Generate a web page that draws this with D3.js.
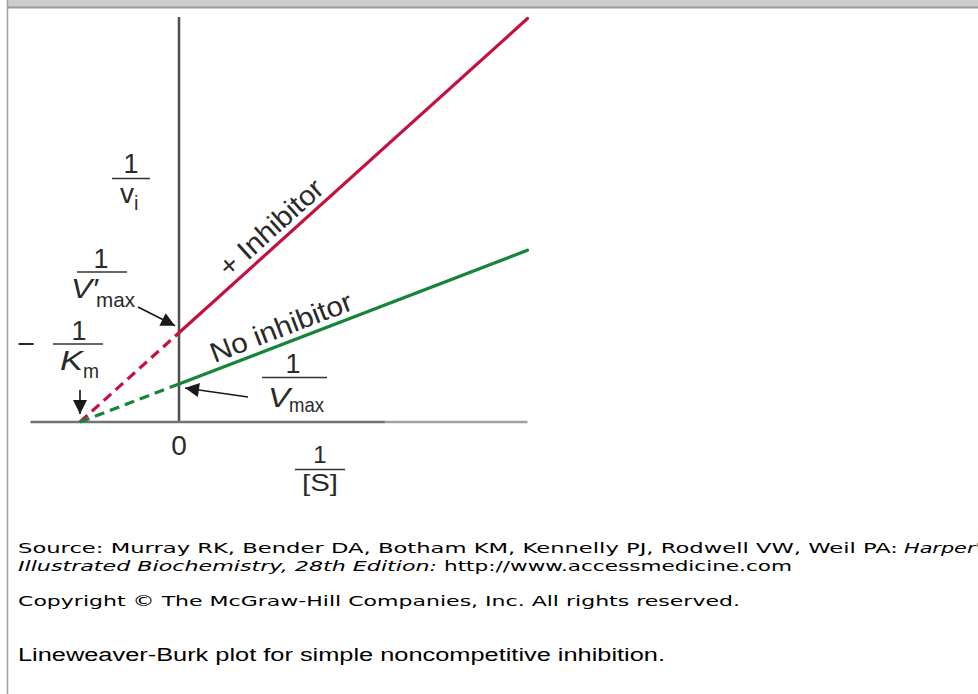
<!DOCTYPE html>
<html><head><meta charset="utf-8">
<script src="https://cdn.jsdelivr.net/npm/d3@7"></script>
<style>body{margin:0;background:#fff}svg{display:block}</style>
</head><body>
<svg id="c" width="978" height="694"></svg>
<script>
// ---- data ----
const xDomain = [-1.5, 3.52];           // 1/[S]
const yDomain = [0, 10.66];             // 1/v_i
const axisSplitX = 2.08;
const seriesNames = ["+ Inhibitor", "No inhibitor"];
const seriesColors = ["#c4123f", "#14853b"];
const intersectX = -1;                  // -1/Km (shared)
const yIntercepts = [2.35, 1.0];        // 1/V'max, 1/Vmax
const endX = 3.52;
const endY = [10.62, 4.52];
const labelAtX = [1.04, 1.09];
const labelLengths = [130, 150];
const xTickValues = [0];
const xTickLabels = ["0"];

const svg = d3.select("#c");
const W = 978, H = 694;
const x = d3.scaleLinear().domain(xDomain).range([30.5, 527.5]);
const y = d3.scaleLinear().domain(yDomain).range([422, 17]);
const FONT = "'Liberation Sans', Arial, Helvetica, sans-serif";
const INK = "#2a2a2a";

// frame
svg.append("rect").attr("x", 8).attr("y", 0).attr("width", W - 8).attr("height", 7).attr("fill", "#cccccc");
svg.append("line").attr("x1", 8).attr("x2", W).attr("y1", 7.5).attr("y2", 7.5).attr("stroke", "#9a9a9a").attr("stroke-width", 2);
svg.append("line").attr("x1", 7.5).attr("x2", 7.5).attr("y1", 0).attr("y2", H).attr("stroke", "#a0a0a0").attr("stroke-width", 1.5);

// markers
const defs = svg.append("defs");
defs.append("marker").attr("id", "ah").attr("viewBox", "0 0 10 10").attr("refX", 10).attr("refY", 5)
  .attr("markerWidth", 18).attr("markerHeight", 14).attr("markerUnits", "userSpaceOnUse").attr("orient", "auto")
  .append("path").attr("d", "M0,0 L10,5 L0,10 Z").attr("fill", "#1a1a1a");

// axes
svg.append("line").attr("x1", x(0)).attr("x2", x(0)).attr("y1", y(yDomain[1])).attr("y2", y(0) + 1)
  .attr("stroke", "#4e4e4e").attr("stroke-width", 2.5);
svg.append("line").attr("x1", x(xDomain[0])).attr("x2", x(axisSplitX)).attr("y1", y(0)).attr("y2", y(0))
  .attr("stroke", "#727272").attr("stroke-width", 2.5);
svg.append("line").attr("x1", x(axisSplitX)).attr("x2", x(xDomain[1])).attr("y1", y(0)).attr("y2", y(0))
  .attr("stroke", "#a3a3a3").attr("stroke-width", 2.5);

// series lines
const line = d3.line().x(d => x(d[0])).y(d => y(d[1]));
seriesNames.forEach((name, i) => {
  const dashed = [[intersectX, 0], [0, yIntercepts[i]]];
  const solid = [[0, yIntercepts[i]], [endX, endY[i]]];
  svg.append("path").attr("d", line(dashed)).attr("fill", "none").attr("stroke", seriesColors[i])
    .attr("stroke-width", 3.2).attr("stroke-dasharray", "10,6");
  svg.append("path").attr("d", line(solid)).attr("fill", "none").attr("stroke", seriesColors[i])
    .attr("stroke-width", 3.2).attr("stroke-linecap", "round");
  const yAt = d3.scaleLinear().domain([0, endX]).range([yIntercepts[i], endY[i]]);
  const px = x(labelAtX[i]), py = y(yAt(labelAtX[i]));
  const th = Math.atan2(y(endY[i]) - y(yIntercepts[i]), x(endX) - x(0));
  const off = 7;
  const bx = px + off * Math.sin(th), by = py - off * Math.cos(th);
  svg.append("text").attr("transform", `translate(${bx},${by}) rotate(${th * 180 / Math.PI})`)
    .attr("text-anchor", "middle").attr("font-family", FONT).attr("font-size", 28).attr("fill", INK)
    .attr("textLength", labelLengths[i]).attr("lengthAdjust", "spacingAndGlyphs").text(name);
});

// tick labels
svg.selectAll("text.tick").data(xTickValues).enter().append("text").attr("class", "tick")
  .attr("x", d => x(d)).attr("y", 455).attr("text-anchor", "middle").attr("font-family", FONT)
  .attr("font-size", 28).attr("fill", INK).text((d, i) => xTickLabels[i]);

function txt(t, xx, yy, size, opts = {}) {
  const e = svg.append("text").attr("x", xx).attr("y", yy).attr("font-family", FONT).attr("font-size", size)
    .attr("fill", INK).attr("text-anchor", opts.anchor || "start").text(t);
  if (opts.italic) e.attr("font-style", "italic");
  if (opts.len) e.attr("textLength", opts.len).attr("lengthAdjust", "spacingAndGlyphs");
  return e;
}
function bar(x1, x2, yy) {
  svg.append("line").attr("x1", x1).attr("x2", x2).attr("y1", yy).attr("y2", yy).attr("stroke", "#333").attr("stroke-width", 1.7);
}
// 1/v_i
txt("1", 131, 173, 27, {anchor: "middle"}); bar(112, 150, 178.5);
txt("v", 120, 203, 28); txt("i", 134, 210, 20);
// 1/V'max
txt("1", 101, 268, 27, {anchor: "middle"}); bar(77, 127, 272);
txt("V\u2032", 71, 298, 28, {italic: true, len: 27}); txt("max", 96, 307, 21, {len: 39});
// -1/Km
txt("\u2212", 17, 354, 30, {len: 18});
txt("1", 79, 340, 27, {anchor: "middle"}); bar(53, 103, 344);
txt("K", 60, 370, 28, {italic: true, len: 23}); txt("m", 83, 378, 21, {len: 16});
// 1/Vmax
txt("1", 293, 373, 27, {anchor: "middle"}); bar(262, 327, 377.5);
txt("V", 268, 407, 28, {italic: true, len: 22}); txt("max", 289, 412, 21, {len: 35});
// 1/[S]
txt("1", 320, 463, 24, {anchor: "middle"}); bar(295, 345, 469.5);
txt("[S]", 320, 491, 24, {anchor: "middle", len: 36});

// arrows
function arrow(x1, y1, x2, y2) {
  svg.append("line").attr("x1", x1).attr("y1", y1).attr("x2", x2).attr("y2", y2)
    .attr("stroke", "#1a1a1a").attr("stroke-width", 1.7).attr("marker-end", "url(#ah)");
}
arrow(138, 307, x(0) - 4, y(yIntercepts[0]) - 7);
arrow(248, 397, x(0) + 6, y(yIntercepts[1]) + 4);
arrow(x(intersectX), 390, x(intersectX), y(0) - 8);

// source / caption text
const VFONT = "'DejaVu Sans', Verdana, sans-serif";
function stext(t, xx, yy, len, italic, font, size) {
  const e = svg.append("text").attr("x", xx).attr("y", yy).attr("font-family", font).attr("font-size", size)
    .attr("fill", "#000").attr("textLength", len).attr("lengthAdjust", "spacingAndGlyphs").text(t);
  if (italic) e.attr("font-style", "italic");
}
stext("Source: Murray RK, Bender DA, Botham KM, Kennelly PJ, Rodwell VW, Weil PA:", 18, 553, 880, false, VFONT, 14.5);
stext("Harper's", 904, 553, 88, true, VFONT, 14.5);
stext("Illustrated Biochemistry, 28th Edition:", 18, 571, 419, true, VFONT, 14.5);
stext("http://www.accessmedicine.com", 444, 571, 348, false, VFONT, 14.5);
stext("Copyright \u00a9 The McGraw-Hill Companies, Inc. All rights reserved.", 18, 606, 722, false, VFONT, 14.5);
stext("Lineweaver-Burk plot for simple noncompetitive inhibition.", 18, 661, 647, false, FONT, 18);
</script>
</body></html>
